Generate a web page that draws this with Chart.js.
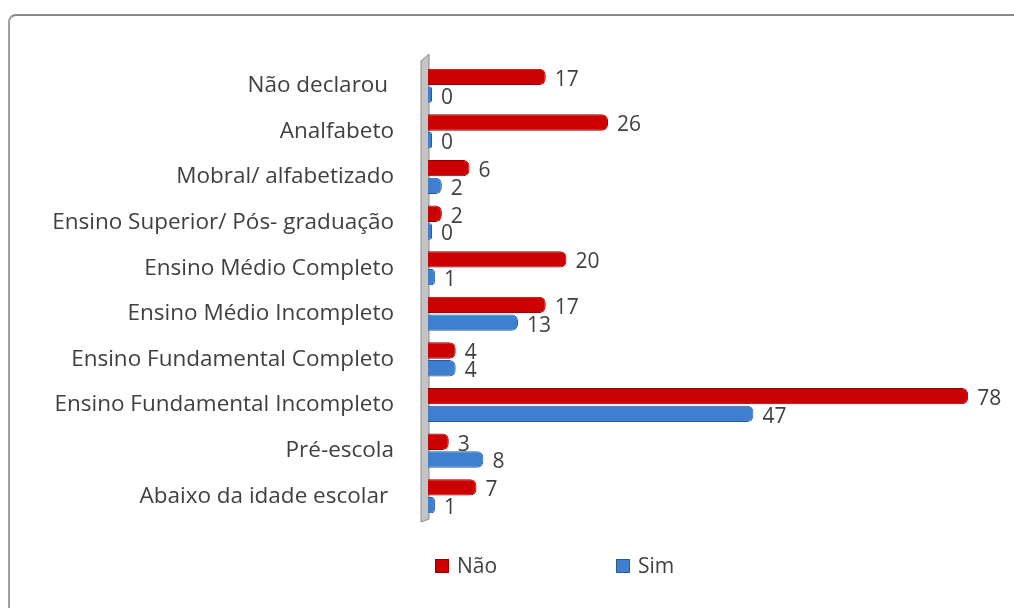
<!DOCTYPE html>
<html>
<head>
<meta charset="utf-8">
<script src="https://cdn.jsdelivr.net/npm/chart.js@4/dist/chart.umd.min.js"></script>
<style>
  html, body { margin: 0; padding: 0; background: #fff; overflow: hidden; }
  #wrap { position: relative; width: 1014px; height: 608px; }
  #frame {
    position: absolute; left: 8px; top: 14px; width: 1100px; height: 700px;
    border-top: 2px solid #8a8a8a; border-left: 2px solid #a0a0a0;
    border-top-left-radius: 8px;
  }
  canvas { position: absolute; left: 0; top: 0; }
</style>
</head>
<body>
<div id="wrap">
  <div id="frame"></div>
  <canvas id="myChart" width="1014" height="608"></canvas>
</div>
<script>
// dados do gráfico
var categorias = [
  "Não declarou ",
  "Analfabeto",
  "Mobral/ alfabetizado",
  "Ensino Superior/ Pós- graduação",
  "Ensino Médio Completo",
  "Ensino Médio Incompleto",
  "Ensino Fundamental Completo",
  "Ensino Fundamental Incompleto",
  "Pré-escola",
  "Abaixo da idade escolar "
];
var valoresNao = [17, 26, 6, 2, 20, 17, 4, 78, 3, 7];
var valoresSim = [0, 0, 2, 0, 1, 13, 4, 47, 8, 1];
var nomesSeries = ["Não", "Sim"];

var fonte = "'Open Sans', Lato, sans-serif";
var corTexto = "#404040";

// parede cinza atrás das barras (efeito 3D)
var parede = {
  id: 'parede',
  beforeDatasetsDraw: function (chart) {
    var c = chart.ctx, a = chart.chartArea;
    c.save();
    c.fillStyle = '#c4c4c4';
    c.strokeStyle = '#8c8c8c';
    c.lineWidth = 1;
    c.beginPath();
    c.moveTo(a.left - 7, a.top - 2);
    c.lineTo(a.left + 1, a.top - 9);
    c.lineTo(a.left + 1, a.bottom);
    c.lineTo(a.left - 7, a.bottom + 3);
    c.closePath();
    c.fill();
    c.stroke();
    c.restore();
  }
};

// rótulos com os valores no fim de cada barra
var rotulos = {
  id: 'rotulos',
  afterDatasetsDraw: function (chart) {
    var c = chart.ctx;
    c.save();
    c.font = "21px " + fonte;
    c.fillStyle = corTexto;
    c.textBaseline = 'middle';
    chart.data.datasets.forEach(function (ds, i) {
      chart.getDatasetMeta(i).data.forEach(function (bar, j) {
        c.fillText(ds.data[j], bar.x + 9, bar.y + 3);
      });
    });
    c.restore();
  }
};

// legenda desenhada à mão (itens bem espaçados como no original)
var legenda = {
  id: 'legenda',
  afterDraw: function (chart) {
    var c = chart.ctx;
    var xs = [435, 616];
    var y = 567;
    c.save();
    c.font = "21px " + fonte;
    c.textBaseline = 'middle';
    chart.data.datasets.forEach(function (ds, i) {
      c.fillStyle = ds.backgroundColor;
      c.fillRect(xs[i], y - 8, 14, 14);
      c.strokeStyle = ds.borderColor;
      c.strokeRect(xs[i] + 0.5, y - 7.5, 13, 13);
      c.fillStyle = corTexto;
      c.fillText(ds.label, xs[i] + 22, y);
    });
    c.restore();
  }
};

var ctx = document.getElementById("myChart");
var myChart = new Chart(ctx, {
  type: 'bar',
  data: {
    labels: categorias,
    datasets: [{
      label: nomesSeries[0],
      data: valoresNao,
      backgroundColor: '#cc0000',
      borderColor: '#8f0000',
      borderWidth: 1,
      borderRadius: 6,
      borderSkipped: 'start',
      minBarLength: 3
    }, {
      label: nomesSeries[1],
      data: valoresSim,
      backgroundColor: '#3f7fcf',
      borderColor: '#2a5a98',
      borderWidth: 1,
      borderRadius: 6,
      borderSkipped: 'start',
      minBarLength: 4
    }]
  },
  options: {
    indexAxis: 'y',
    responsive: false,
    animation: false,
    layout: { padding: { top: 63, bottom: 89, right: 32, left: 0 } },
    datasets: { bar: { categoryPercentage: 0.78, barPercentage: 0.92 } },
    plugins: {
      legend: { display: false },
      tooltip: { enabled: false }
    },
    scales: {
      x: {
        display: false,
        min: 0,
        max: 80
      },
      y: {
        grid: { display: false, drawTicks: false },
        border: { display: false },
        ticks: {
          color: corTexto,
          font: { family: fonte, size: 22.5 },
          padding: 34
        },
        afterFit: function (scale) { scale.width = 428; }
      }
    }
  },
  plugins: [parede, rotulos, legenda]
});
</script>
</body>
</html>
